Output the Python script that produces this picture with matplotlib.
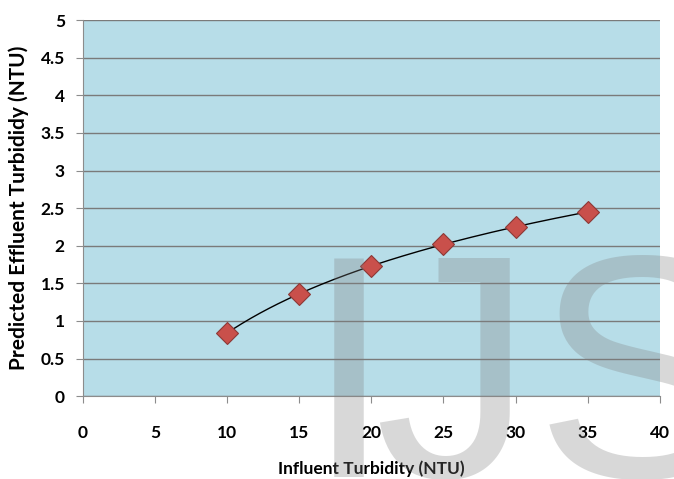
import numpy as np
import matplotlib.pyplot as plt

# Data
influent = np.array([10, 15, 20, 25, 30, 35])
predicted = np.array([0.84, 1.36, 1.73, 2.02, 2.25, 2.45])

x_ticks = [0, 5, 10, 15, 20, 25, 30, 35, 40]
y_ticks = [0, 0.5, 1, 1.5, 2, 2.5, 3, 3.5, 4, 4.5, 5]
y_tick_labels = ["0", "0.5", "1", "1.5", "2", "2.5", "3", "3.5", "4", "4.5", "5"]

plt.rcParams['font.family'] = ['Lato', 'DejaVu Sans']

fig = plt.figure(figsize=(6.74, 4.79), dpi=100)
ax = fig.add_axes([0.123, 0.173, 0.856, 0.785])
ax.set_facecolor('#b7dde8')

# logarithmic trendline fitted to the points
a, b = np.polyfit(np.log(influent), predicted, 1)
xs = np.linspace(influent.min(), influent.max(), 200)
ax.plot(xs, a * np.log(xs) + b, color='black', lw=1.0, zorder=3)

ax.plot(influent, predicted, linestyle='none', marker='D', markersize=11,
        markerfacecolor='#c9504b', markeredgecolor='#8c3836', markeredgewidth=0.8, zorder=4)

ax.set_xlim(0, 40)
ax.set_ylim(0, 5)
ax.set_xticks(x_ticks)
ax.set_yticks(y_ticks)
ax.set_yticklabels(y_tick_labels)
ax.yaxis.grid(True, color='#7a7a7a', lw=1)
ax.set_axisbelow(True)

for side in ['top', 'right']:
    ax.spines[side].set_visible(False)
for side in ['left', 'bottom']:
    ax.spines[side].set_color('#8c8c8c')
ax.tick_params(axis='both', colors='#8c8c8c', labelcolor='black', length=5,
               labelsize=12.5)
for lbl in ax.get_xticklabels() + ax.get_yticklabels():
    lbl.set_fontweight('bold')
ax.tick_params(axis='x', pad=16)
ax.tick_params(axis='y', pad=8)

ax.set_xlabel('Influent Turbidity (NTU)', fontsize=12.5, fontweight='bold', labelpad=14)
ax.set_ylabel('Predicted Effluent Turbididy (NTU)', fontsize=15, fontweight='bold', labelpad=8)

# watermark letters
wm = dict(fontsize=228, color='#808080', alpha=0.3, family='Liberation Sans',
          ha='center', va='baseline', zorder=10)
fig.text(349 / 674, 2 / 479, 'I', **wm)
fig.text(453 / 674, 2 / 479, 'J', **wm)
fig.text(640 / 674, 2 / 479, 'S', **wm)

fig.savefig('out.png', dpi=100)
